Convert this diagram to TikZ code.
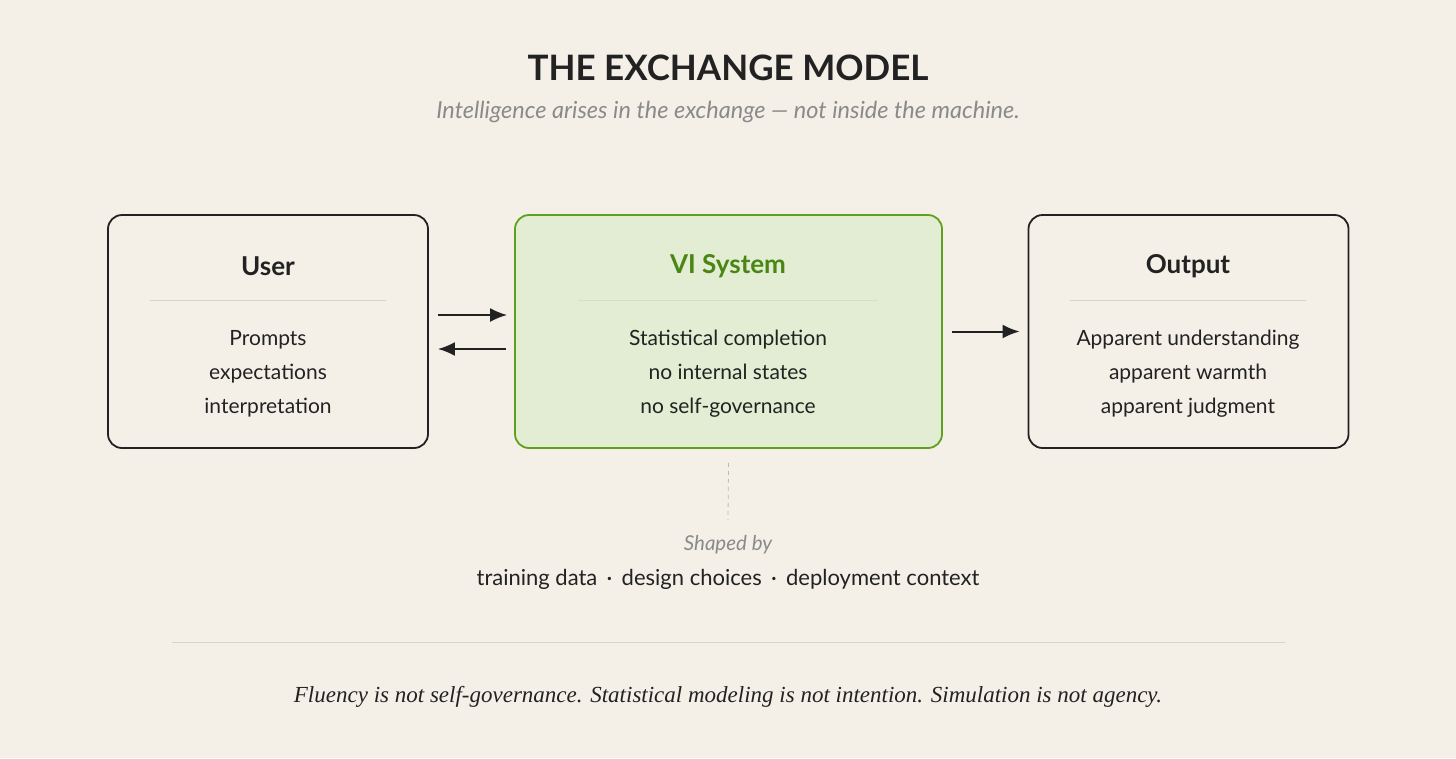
\documentclass[tikz,border=0pt]{standalone}
\usepackage{fontspec}
\usetikzlibrary{arrows.meta}
\setmainfont{Liberation Serif}
\setsansfont{Lato}
\definecolor{bg}{HTML}{F4F0E8}
\definecolor{ink}{HTML}{222222}
\definecolor{grn}{HTML}{5FA11E}
\definecolor{grnfill}{HTML}{E2EDD3}
\definecolor{grntxt}{HTML}{4A8614}
\definecolor{gry}{HTML}{8A8A8A}
\definecolor{rule}{HTML}{D8D4CC}
\begin{document}
\begin{tikzpicture}[x=1pt,y=-1pt,
  box/.style={draw=ink,line width=1.8pt,rounded corners=14pt,minimum width=320pt,minimum height=233pt,inner sep=0pt},
  head/.style={font=\sffamily\bfseries\fontsize{26}{30}\selectfont,text=ink},
  body/.style={font=\sffamily\fontsize{21}{34}\selectfont,text=ink,align=center},
  arr/.style={draw=ink,line width=2pt,-{Latex[length=17pt,width=14pt]}},
  div/.style={draw=rule,line width=0.8pt}]
\fill[bg] (0,0) rectangle (1456,758);
\useasboundingbox (0,0) rectangle (1456,758);
\node[font=\sffamily\bfseries\fontsize{35}{40}\selectfont,text=ink] (title) at (728,68) {THE EXCHANGE MODEL};
\node[font=\sffamily\itshape\fontsize{23.5}{26}\selectfont,text=gry] (sub) at (728,112) {Intelligence arises in the exchange — not inside the machine.};
\node[box] (user) at (268,331.5) {};
\node[box,draw=grn,fill=grnfill,minimum width=427pt] (vi) at (728.5,331.5) {};
\node[box] (out) at (1188.5,331.5) {};
\node[head] (uh) at (268,266) {User};
\node[head,text=grntxt] (vh) at (728,266) {VI System};
\node[head] (oh) at (1188,266) {Output};
\draw[div] (150,300) -- (386,300);
\draw[div,draw=grn!30] (578,300) -- (878,300);
\draw[div] (1070,300) -- (1306,300);
\node[body] (ub) at (268,374) {Prompts\\expectations\\interpretation};
\node[body] (vb) at (728,374) {Statistical completion\\no internal states\\no self-governance};
\node[body] (ob) at (1188,374) {Apparent understanding\\apparent warmth\\apparent judgment};
\draw[arr] ([xshift=9pt,yshift=16.5pt]user.east) -- ([xshift=-7pt,yshift=16.5pt]vi.west);
\draw[arr] ([xshift=-8pt,yshift=-17.5pt]vi.west) -- ([xshift=9pt,yshift=-17.5pt]user.east);
\draw[arr] ([xshift=9pt]vi.east) -- ([xshift=-8pt]out.west);
\coordinate (d2) at (728,520);
\draw[draw=gry!60,line width=0.8pt,dash pattern=on 4pt off 4pt] ([yshift=-14pt]vi.south) -- (d2);
\node[font=\sffamily\itshape\fontsize{20.5}{24}\selectfont,text=gry] (shaped) at (728,545) {Shaped by};
\node[font=\sffamily\fontsize{22}{24}\selectfont,text=ink] (ctx) at (728,579) {training data \,·\, design choices \,·\, deployment context};
\draw[div] (172,642) -- (1285,642);
\node[font=\rmfamily\itshape\fontsize{23}{30}\selectfont,text=ink] (quote) at (728,697) {Fluency is not self-governance. Statistical modeling is not intention. Simulation is not agency.};
\end{tikzpicture}
\end{document}
